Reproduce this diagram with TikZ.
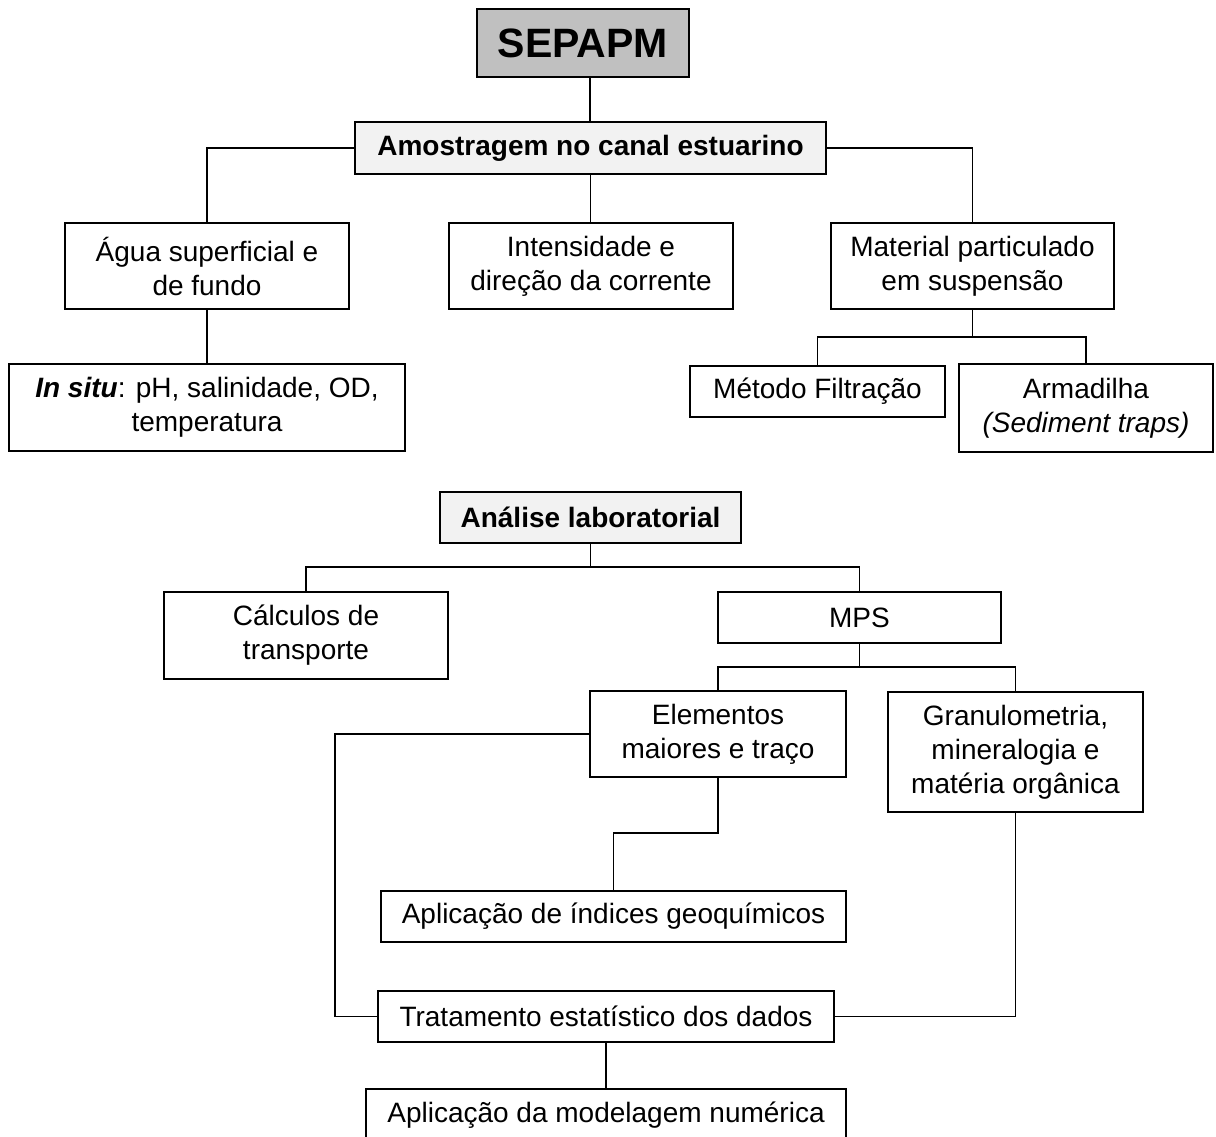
\documentclass[tikz,border=0pt]{standalone}
\usepackage{fontspec}
\setmainfont{Liberation Sans}
\begin{document}
\begin{tikzpicture}[x=1pt,y=-1pt,
  box/.style={draw=black, line width=1.4pt, fill=white, inner sep=0pt, align=center,
    font=\fontsize{28}{34}\selectfont},
  headbox/.style={box, fill=headgray},
  conn/.style={line width=1.3pt, black}]
\definecolor{headgray}{HTML}{F2F2F2}
\definecolor{topgray}{HTML}{C0C0C0}
\fill[white] (0,0) rectangle (1216,1137);
\useasboundingbox (0,0) rectangle (1216,1137);

% nodes
\node[box, fill=topgray, minimum width=212pt, minimum height=68pt,
  font=\fontsize{41}{48}\selectfont\bfseries] (sep) at (583,43) {SEPAPM};
\node[headbox, minimum width=471pt, minimum height=52pt, font=\fontsize{28}{34}\selectfont\bfseries]
  (amo) at (590.5,148) {Amostragem no canal estuarino};
\node[box, minimum width=284pt, minimum height=86pt] (agua) at (207,266) {Água superficial e\\de fundo};
\node[box, minimum width=284pt, minimum height=86pt] (int) at (591,266) {Intensidade e\\direção da corrente};
\node[box, minimum width=283pt, minimum height=86pt] (mat) at (972.5,266) {Material particulado\\em suspensão};
\node[box, minimum width=396pt, minimum height=87pt] (insitu) at (207,407.5)
  {\textbf{\textit{In situ}}: pH, salinidade, OD,\\temperatura};
\node[box, minimum width=255pt, minimum height=51pt] (met) at (817.5,391.5) {Método Filtração};
\node[box, minimum width=254pt, minimum height=88pt] (arm) at (1086,408) {Armadilha\\\textit{(Sediment traps)}};

\node[headbox, minimum width=301pt, minimum height=51pt, font=\fontsize{28}{34}\selectfont\bfseries]
  (ana) at (590.5,517.5) {Análise laboratorial};
\node[box, minimum width=284pt, minimum height=87pt] (calc) at (306,635.5) {Cálculos de\\transporte};
\node[box, minimum width=283pt, minimum height=51pt] (mps) at (859.5,617.5) {MPS};
\node[box, minimum width=256pt, minimum height=86pt] (ele) at (718,734) {Elementos\\maiores e traço};
\node[box, minimum width=255pt, minimum height=120pt] (gran) at (1015.5,752)
  {Granulometria,\\mineralogia e\\matéria orgânica};
\node[box, minimum width=465pt, minimum height=51pt] (ind) at (613.5,916.5) {Aplicação de índices geoquímicos};
\node[box, minimum width=456pt, minimum height=51pt] (trat) at (606,1016.5) {Tratamento estatístico dos dados};
\node[box, minimum width=480pt, minimum height=52pt] (mod) at (606,1115) {Aplicação da modelagem numérica};

% junction coordinates
\coordinate (mb) at (972.5,337);
\coordinate (ab) at (590.5,567);
\coordinate (pb) at (859.5,667);
\coordinate (ek) at (718,833);
\coordinate (lc) at (335,0);

% connectors
\draw[conn] ([xshift=7pt]sep.south) -- ([xshift=7pt]sep.south |- amo.north);
\draw[conn] (amo.west) -| (agua.north);
\draw[conn] (amo.east) -| (mat.north);
\draw[conn] (amo.south) -- (amo.south |- int.north);
\draw[conn] (agua.south) -- (insitu.north);
\draw[conn] (mat.south) -- (mb);
\draw[conn] (met.north) |- (mb) -| (arm.north);

\draw[conn] (ana.south) -- (ab);
\draw[conn] (calc.north) |- (ab) -| (mps.north);
\draw[conn] (mps.south) -- (pb);
\draw[conn] (ele.north) |- (pb) -| (gran.north);
\draw[conn] (ele.south) -- (ek) -| (ind.north);
\draw[conn] (ele.west) -- (ele.west -| lc) |- (trat.west);
\draw[conn] (gran.south) |- (trat.east);
\draw[conn] (trat.south) -- (mod.north);
\end{tikzpicture}
\end{document}
